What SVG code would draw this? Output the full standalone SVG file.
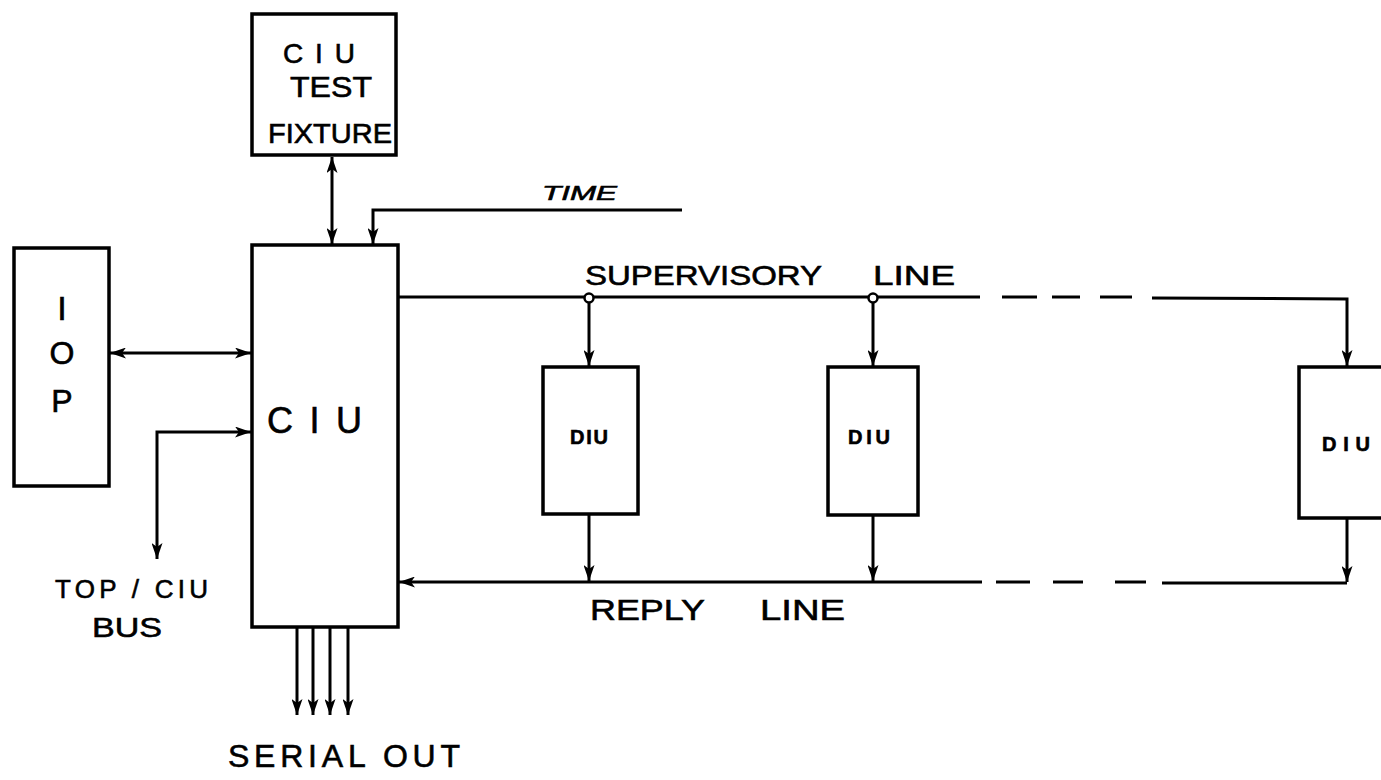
<svg xmlns="http://www.w3.org/2000/svg" width="1381" height="780" viewBox="0 0 1381 780">
<style>
.box{fill:#fff;stroke:#000;stroke-width:3.5}
.ln{fill:none;stroke:#000;stroke-width:3}
.t{font-family:"Liberation Sans",Arial,sans-serif;fill:#000;stroke:#000;stroke-width:0.6}
</style>
<defs>
<marker id="ah" viewBox="0 0 16 11" refX="16" refY="5.5" markerWidth="16" markerHeight="11" markerUnits="userSpaceOnUse" orient="auto-start-reverse">
<path d="M0,0 L16,5.5 L0,11 L4,5.5 Z" fill="#000"/>
</marker>
</defs>
<rect width="1381" height="780" fill="#fff"/>
<g id="fixture">
<rect class="box" x="252" y="14" width="144" height="141"/>
<text class="t" x="283" y="63" font-size="28" textLength="72" lengthAdjust="spacing">C I U</text>
<text class="t" x="290" y="97" font-size="30" textLength="82" lengthAdjust="spacingAndGlyphs">TEST</text>
<text class="t" x="268" y="143" font-size="28" textLength="124" lengthAdjust="spacingAndGlyphs">FIXTURE</text>
</g>
<g id="iop">
<rect class="box" x="14" y="248" width="95" height="238"/>
<text class="t" x="62" y="320" font-size="34" text-anchor="middle">I</text>
<text class="t" x="62" y="364" font-size="32" text-anchor="middle">O</text>
<text class="t" x="62" y="412" font-size="32" text-anchor="middle">P</text>
</g>
<g id="ciu">
<rect class="box" x="252" y="245" width="146" height="382"/>
<text class="t" x="267" y="433" font-size="36" textLength="95" lengthAdjust="spacing">C I U</text>
</g>
<g id="diu1">
<rect class="box" x="543" y="367" width="95" height="147"/>
<text class="t" x="570" y="444" font-size="20" font-weight="bold" textLength="38" lengthAdjust="spacing">DIU</text>
</g>
<g id="diu2">
<rect class="box" x="828" y="367" width="90" height="148"/>
<text class="t" x="848" y="444" font-size="20" font-weight="bold" textLength="42" lengthAdjust="spacing">DIU</text>
</g>
<g id="diu3">
<rect class="box" x="1299" y="367" width="96" height="151"/>
<text class="t" x="1322" y="451" font-size="20" font-weight="bold" textLength="48" lengthAdjust="spacing">DIU</text>
</g>
<g id="labels">
<text class="t" x="542" y="200" font-size="20" font-style="italic" textLength="75" lengthAdjust="spacingAndGlyphs">TIME</text>
<text class="t" x="585" y="285" font-size="28" textLength="237" lengthAdjust="spacingAndGlyphs">SUPERVISORY</text>
<text class="t" x="873" y="285" font-size="28" textLength="82" lengthAdjust="spacingAndGlyphs">LINE</text>
<text class="t" x="590" y="620" font-size="30" textLength="115" lengthAdjust="spacingAndGlyphs">REPLY</text>
<text class="t" x="760" y="620" font-size="30" textLength="85" lengthAdjust="spacingAndGlyphs">LINE</text>
<text class="t" x="55" y="598" font-size="26" textLength="153" lengthAdjust="spacing">TOP / CIU</text>
<text class="t" x="92" y="637" font-size="28" textLength="70" lengthAdjust="spacingAndGlyphs">BUS</text>
<text class="t" x="228" y="767" font-size="32" textLength="232" lengthAdjust="spacing">SERIAL OUT</text>
</g>
<g id="connectors">
<line class="ln" x1="332" y1="157" x2="332" y2="244" marker-start="url(#ah)" marker-end="url(#ah)"/>
<polyline class="ln" points="682,210 373,210 373,244" marker-end="url(#ah)"/>
<line class="ln" x1="110" y1="353" x2="251" y2="353" marker-start="url(#ah)" marker-end="url(#ah)"/>
<polyline class="ln" points="251,432 157,432 157,559" marker-start="url(#ah)" marker-end="url(#ah)" stroke-width="4"/>
<line class="ln" x1="398" y1="297" x2="980" y2="297"/>
<line class="ln" x1="1002" y1="297" x2="1037" y2="297"/>
<line class="ln" x1="1052" y1="297" x2="1080" y2="297"/>
<line class="ln" x1="1100" y1="297" x2="1132" y2="297"/>
<polyline class="ln" points="1152,298 1347,299 1347,366" marker-end="url(#ah)"/>
<circle cx="589" cy="298" r="4.5" fill="#fff" stroke="#000" stroke-width="2.5"/>
<circle cx="873" cy="298" r="4.5" fill="#fff" stroke="#000" stroke-width="2.5"/>
<line class="ln" x1="589" y1="303" x2="589" y2="366" marker-end="url(#ah)"/>
<line class="ln" x1="873" y1="303" x2="873" y2="366" marker-end="url(#ah)"/>
<line class="ln" x1="589" y1="515" x2="589" y2="581" marker-end="url(#ah)"/>
<line class="ln" x1="873" y1="516" x2="873" y2="581" marker-end="url(#ah)"/>
<line class="ln" x1="1347" y1="519" x2="1347" y2="582" marker-end="url(#ah)"/>
<line class="ln" x1="982" y1="582" x2="399" y2="582" marker-end="url(#ah)"/>
<line class="ln" x1="996" y1="582" x2="1030" y2="582"/>
<line class="ln" x1="1053" y1="582" x2="1083" y2="582"/>
<line class="ln" x1="1115" y1="582" x2="1146" y2="582"/>
<line class="ln" x1="1162" y1="583" x2="1347" y2="583"/>
<line class="ln" x1="297" y1="628" x2="297" y2="715" marker-end="url(#ah)"/>
<line class="ln" x1="313" y1="628" x2="313" y2="715" marker-end="url(#ah)"/>
<line class="ln" x1="330" y1="628" x2="330" y2="715" marker-end="url(#ah)"/>
<line class="ln" x1="348" y1="628" x2="348" y2="715" marker-end="url(#ah)"/>
</g>
</svg>
